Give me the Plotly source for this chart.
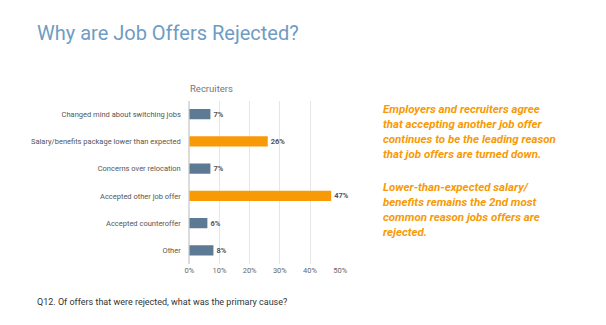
import plotly.graph_objects as go

W, H = 606, 325

categories = [
    "Changed mind about switching jobs",
    "Salary/benefits package lower than expected",
    "Concerns over relocation",
    "Accepted other job offer",
    "Accepted counteroffer",
    "Other",
]
values = [7, 26, 7, 47, 6, 8]
highlight = [False, True, False, True, False, False]
x_ticks = [0, 10, 20, 30, 40, 50]
x_tick_labels = ["0%", "10%", "20%", "30%", "40%", "50%"]

BLUE = "#5d7a94"
ORANGE = "#f79a06"
colors = [ORANGE if h else BLUE for h in highlight]

fig = go.Figure(
    go.Bar(
        y=categories,
        x=values,
        orientation="h",
        marker=dict(color=colors, line=dict(width=0)),
        text=[f"<b>{v}%</b>" for v in values],
        textposition="outside",
        textfont=dict(family="Roboto", size=7.5, color="#555555"),
        cliponaxis=False,
        width=0.37,
    )
)

def px(x):
    return x / W

def py(y):
    return 1 - y / H

fig.update_layout(
    width=W,
    height=H,
    margin=dict(l=0, r=0, t=0, b=0),
    paper_bgcolor="white",
    plot_bgcolor="white",
    showlegend=False,
    font=dict(family="Roboto", color="#555555"),
    xaxis=dict(
        domain=[px(188), px(342)],
        range=[0, 50],
        tickvals=x_ticks,
        ticktext=x_tick_labels,
        showgrid=True,
        gridcolor="#e6e6e6",
        gridwidth=1,
        zeroline=True,
        zerolinecolor="#dcdcdc",
        tickfont=dict(size=7.5, color="#666666"),
        ticks="",
        fixedrange=True,
    ),
    yaxis=dict(
        domain=[py(264), py(100.5)],
        autorange="reversed",
        tickfont=dict(size=7.5, color="#555555"),
        ticks="outside",
        ticklen=6,
        tickcolor="rgba(0,0,0,0)",
        showgrid=False,
        fixedrange=True,
    ),
)

def note(text, x, y, size, color, xanchor="left", yanchor="middle"):
    return dict(
        text=text, x=px(x), y=py(y), xref="paper", yref="paper",
        xanchor=xanchor, yanchor=yanchor, align="left",
        font=dict(family="Roboto", size=size, color=color),
        showarrow=False,
    )

annotations = [
    note("Why are Job Offers Rejected?", 31, 33, 20, "#6f9cc4"),
    note("Recruiters", 187, 88, 9.5, "#777777"),
    note("<b><i>Employers and recruiters agree<br>that accepting another job offer<br>"
         "continues to be the leading reason<br>that job offers are turned down.</i></b>",
         384, 100, 11.5, ORANGE, yanchor="top"),
    note("<b><i>Lower-than-expected salary/<br>benefits remains the 2nd most<br>"
         "common reason jobs offers are<br>rejected.</i></b>",
         384, 178, 11.5, ORANGE, yanchor="top"),
    note("Q12. Of offers that were rejected, what was the primary cause?",
         31, 302, 9, "#333333"),
]
fig.update_layout(annotations=annotations)

fig.write_html("out.html")
